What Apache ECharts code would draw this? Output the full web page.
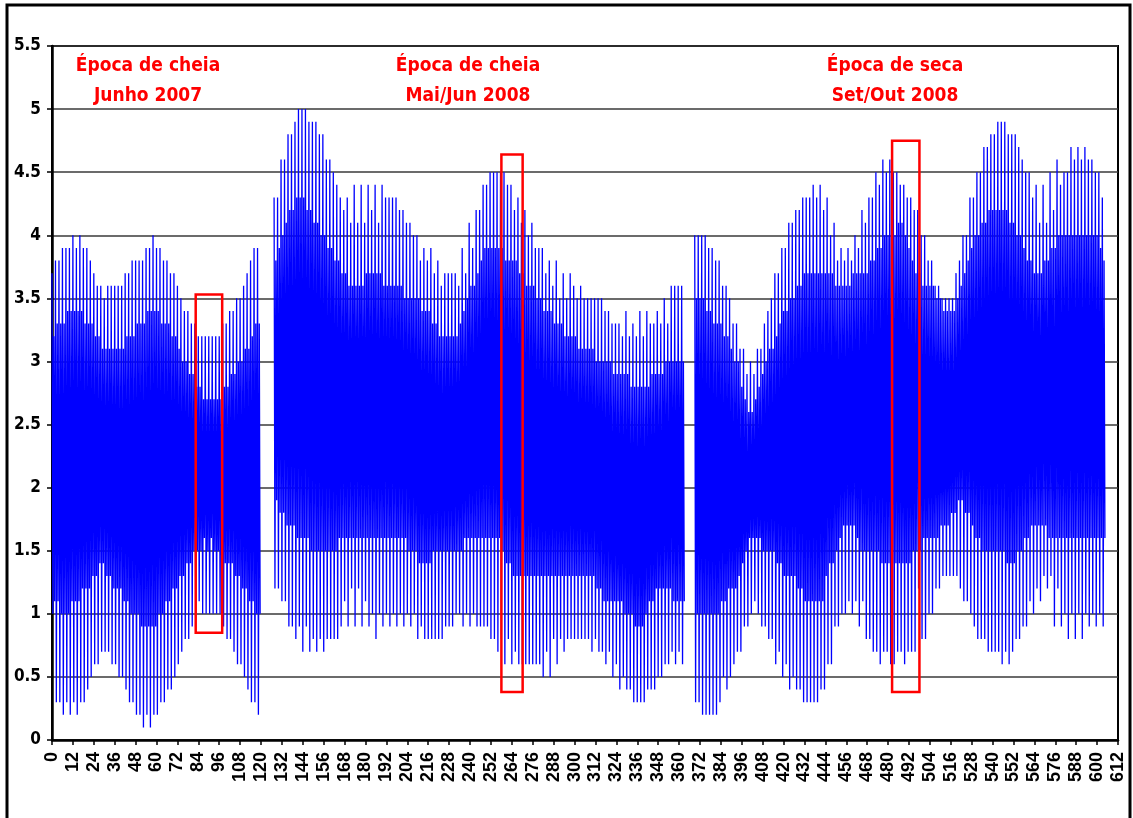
<!DOCTYPE html>
<html>
<head>
<meta charset="utf-8">
<script src="https://cdn.jsdelivr.net/npm/echarts@6/dist/echarts.min.js"></script>
<style>
html,body{margin:0;padding:0;background:#fff;}
#chart{width:1133px;height:818px;}
</style>
</head>
<body>
<div id="chart"></div>
<script>
// ---- DATA ----
// x axis: 0..612, tick every 12; y axis: 0..5.5 step 0.5
const xTicks = {min: 0, max: 612, interval: 12};
const yTicks = {min: 0, max: 5.5, interval: 0.5};

// start index of each recorded stretch
const segStart = [0, 127.5, 369];

// Stretch A (x 0-120): higher highs, lower lows, lower highs, higher lows (one value per 2 x-units)
const A_HH = [3.7,3.8,3.8,3.9,3.9,3.9,4.0,3.9,4.0,3.9, 3.9,3.8,3.7,3.6,3.6,3.5,3.6,3.6,3.6,3.6, 3.6,3.7,3.7,3.8,3.8,3.8,3.8,3.9,3.9,4.0, 3.9,3.9,3.8,3.8,3.7,3.7,3.6,3.5,3.4,3.4, 3.3,3.3,3.2,3.2,3.2,3.2,3.2,3.2,3.2,3.3, 3.3,3.4,3.4,3.5,3.5,3.6,3.7,3.8,3.9,3.9];
const A_LL = [1.0,0.3,0.3,0.2,0.3,0.2,0.3,0.2,0.3,0.3, 0.4,0.5,0.6,0.6,0.7,0.7,0.7,0.6,0.6,0.5, 0.5,0.4,0.3,0.3,0.2,0.2,0.1,0.2,0.1,0.2, 0.2,0.3,0.3,0.4,0.4,0.5,0.6,0.7,0.8,0.8, 0.9,1.0,1.1,1.0,1.0,1.0,1.0,1.0,1.0,0.9, 0.8,0.8,0.7,0.6,0.6,0.5,0.4,0.3,0.3,0.2];
const A_LH = [3.2,3.3,3.3,3.3,3.4,3.4,3.4,3.4,3.4,3.3, 3.3,3.3,3.2,3.2,3.1,3.1,3.1,3.1,3.1,3.1, 3.1,3.2,3.2,3.2,3.3,3.3,3.3,3.4,3.4,3.4, 3.4,3.3,3.3,3.3,3.2,3.2,3.1,3.0,3.0,2.9, 2.9,2.8,2.8,2.7,2.7,2.7,2.7,2.7,2.7,2.8, 2.8,2.9,2.9,3.0,3.0,3.1,3.1,3.2,3.3,3.3];
const A_HL = [1.1,1.1,1.0,1.0,1.0,1.1,1.1,1.1,1.2,1.2, 1.2,1.3,1.3,1.4,1.4,1.3,1.3,1.2,1.2,1.2, 1.1,1.1,1.0,1.0,1.0,0.9,0.9,0.9,0.9,0.9, 1.0,1.0,1.1,1.1,1.2,1.2,1.3,1.3,1.4,1.4, 1.5,1.5,1.5,1.6,1.5,1.6,1.5,1.5,1.5,1.4, 1.4,1.4,1.3,1.3,1.2,1.2,1.1,1.1,1.0,1.0];

// Stretch B (x 128-362)
const B_HH = [4.3,4.3,4.6,4.6,4.8,4.8,4.9,5.0,5.0,5.0, 4.9,4.9,4.9,4.8,4.8,4.6,4.6,4.5,4.4,4.3, 4.2,4.3,4.1,4.4,4.1,4.4,4.1,4.4,4.2,4.4, 4.1,4.4,4.3,4.3,4.3,4.3,4.2,4.2,4.1,4.1, 4.0,4.0,3.8,3.9,3.8,3.9,3.7,3.8,3.6,3.7, 3.7,3.7,3.7,
  3.6,3.9,3.7,4.1,3.9,4.2,4.2,4.4,4.4,4.5, 4.5,4.5,4.5,4.5,4.4,4.4,4.2,4.3,4.1,4.2, 4.0,4.1,3.9,3.9,3.9,3.7,3.8,3.6,3.8,3.5, 3.7,3.5,3.7,3.6,3.5,3.6,3.5,3.5,3.5,3.5, 3.5,3.5,3.4,3.4,3.3,3.3,3.3,3.2,3.4,3.2, 3.3,3.2,3.4,3.2,3.4,3.3,3.3,3.4,3.3,3.5, 3.3,3.6,3.6,3.6,3.6];
const B_LL = [1.2,1.2,1.1,1.1,0.9,0.9,0.8,0.9,0.7,0.9, 0.7,0.8,0.7,0.8,0.7,0.8,0.8,0.8,0.8,0.9, 1.1,0.9,1.2,0.9,1.2,0.9,1.1,0.9,1.0,0.8, 1.0,0.9,1.0,0.9,1.0,0.9,1.0,0.9,1.0,0.9, 1.0,0.8,0.9,0.8,0.8,0.8,0.8,0.8,0.8,0.9, 0.9,0.9,1.0,1.0,
  0.9,1.0,0.9,1.0,0.9,0.9,0.9,0.9,0.8,0.8, 0.7,0.8,0.6,0.8,0.6,0.7,0.6,0.6,0.6,0.6, 0.6,0.6,0.6,0.5,0.7,0.5,0.8,0.6,0.8,0.7, 0.8,0.8,0.8,0.8,0.8,0.8,0.8,0.7,0.8,0.7, 0.7,0.6,0.7,0.5,0.6,0.4,0.5,0.4,0.4,0.3, 0.3,0.3,0.3,0.4,0.4,0.4,0.5,0.5,0.6,0.6, 0.7,0.6,0.7,0.6];
const B_LH = [3.8,3.9,4.0,4.1,4.2,4.2,4.3,4.3,4.3,4.2, 4.2,4.1,4.1,4.0,4.0,3.9,3.9,3.8,3.8,3.7, 3.7,3.6,3.6,3.6,3.6,3.6,3.7,3.7,3.7,3.7, 3.7,3.6,3.6,3.6,3.6,3.6,3.6,3.5,3.5,3.5, 3.5,3.5,3.4,3.4,3.4,3.3,3.3,3.2,3.2,3.2, 3.2,3.2,3.2,3.3,3.4,3.5,3.6,3.6,3.7,3.8, 3.9,3.9,3.9,3.9,3.9,3.9,3.8,3.8,3.8,3.8, 3.7,3.7,3.6,3.6,3.6,3.5,3.5,3.4,3.4,3.4, 3.3,3.3,3.3,3.2,3.2,3.2,3.2,3.1,3.1,3.1, 3.1,3.1,3.0,3.0,3.0,3.0,3.0,2.9,2.9,2.9, 2.9,2.9,2.8,2.8,2.8,2.8,2.8,2.8,2.9,2.9, 2.9,2.9,3.0,3.0,3.0,3.0,3.0,3.0];
const B_HL = [1.9,1.8,1.8,1.7,1.7,1.7,1.6,1.6,1.6,1.6, 1.5,1.5,1.5,1.5,1.5,1.5,1.5,1.5,1.6,1.6, 1.6,1.6,1.6,1.6,1.6,1.6,1.6,1.6,1.6,1.6, 1.6,1.6,1.6,1.6,1.6,1.6,1.6,1.6,1.5,1.5, 1.5,1.4,1.4,1.4,1.4,1.5,1.5,1.5,1.5,1.5, 1.5,1.5,1.5,1.5,1.6,1.6,1.6,1.6,1.6,1.6, 1.6,1.6,1.6,1.6,1.6,1.5,1.4,1.4,1.3,1.3, 1.3,1.3,1.3,1.3,1.3,1.3,1.3,1.3,1.3,1.3, 1.3,1.3,1.3,1.3,1.3,1.3,1.3,1.3,1.3,1.3, 1.3,1.3,1.2,1.2,1.1,1.1,1.1,1.1,1.1,1.1, 1.0,1.0,1.0,0.9,0.9,0.9,1.0,1.1,1.1,1.2, 1.2,1.2,1.2,1.2,1.1,1.1,1.1,1.1];

// Stretch C (x 369-604)
const C_HH = [4.0,4.0,4.0,4.0,3.9,3.9,3.8,3.8,3.6,3.6, 3.5,3.3,3.3,3.1,3.1,2.9,3.0,2.9,3.1,3.1, 3.3,3.4,3.5,3.7,3.7,3.9,3.9,4.1,4.1,4.2, 4.2,4.3,4.3,4.3,4.4,4.3,4.4,4.2,4.3,4.0, 4.1,3.8,3.9,3.8,3.9,3.8,4.0,3.9,4.2,4.1, 4.3,4.3,4.5,4.4,4.6,4.5,4.6,4.5,4.5,4.4, 4.4,4.3,4.3,4.2,4.2,
  4.0,4.0,3.8,3.8,3.6,3.6,3.5,3.5,3.5,3.5, 3.7,3.8,4.0,4.0,4.3,4.3,4.5,4.5,4.7,4.7, 4.8,4.8,4.9,4.9,4.9,4.8,4.8,4.8,4.7,4.6, 4.5,4.5,4.3,4.4,4.1,4.4,4.1,4.5,4.2,4.6, 4.4,4.5,4.5,4.7,4.6,4.7,4.6,4.7,4.6,4.6, 4.5,4.5,4.3];
const C_LL = [0.3,0.3,0.2,0.2,0.2,0.2,0.2,0.3,0.5,0.4, 0.5,0.6,0.7,0.7,0.9,0.9,1.0,1.1,1.0,0.9, 0.9,0.8,0.8,0.6,0.7,0.5,0.6,0.4,0.5,0.4, 0.4,0.3,0.3,0.3,0.3,0.3,0.4,0.4,0.6,0.6, 0.9,0.9,1.0,1.0,1.1,1.0,1.1,0.9,1.1,0.8, 0.8,0.7,0.7,0.6,0.7,0.7,0.6,0.6,0.7,0.7, 0.6,0.7,0.7,0.7,
  1.2,0.8,0.8,1.0,1.0,1.2,1.2,1.3,1.3,1.3, 1.3,1.3,1.2,1.1,1.1,1.0,0.9,0.8,0.8,0.8, 0.7,0.7,0.7,0.7,0.6,0.7,0.6,0.7,0.8,0.8, 0.9,0.9,1.1,1.0,1.2,1.1,1.3,1.2,1.3,0.9, 1.2,0.9,1.0,0.8,1.0,0.8,1.0,0.8,1.0,0.9, 1.0,0.9,1.0,0.9];
const C_LH = [3.5,3.5,3.5,3.4,3.4,3.3,3.3,3.3,3.2,3.2, 3.1,3.0,3.0,2.8,2.7,2.6,2.6,2.7,2.8,2.9, 3.0,3.1,3.1,3.2,3.3,3.4,3.4,3.5,3.5,3.6, 3.6,3.7,3.7,3.7,3.7,3.7,3.7,3.7,3.7,3.7, 3.6,3.6,3.6,3.6,3.6,3.7,3.7,3.7,3.7,3.7, 3.8,3.8,3.9,3.9,4.0,4.0,4.0,4.0,4.1,4.1, 4.0,3.9,3.8,3.7,3.7,3.6,3.6,3.6,3.6,3.5, 3.5,3.4,3.4,3.4,3.4,3.5,3.6,3.7,3.8,3.9, 4.0,4.0,4.1,4.1,4.2,4.2,4.2,4.2,4.2,4.2, 4.1,4.1,4.0,4.0,3.9,3.8,3.8,3.7,3.7,3.7, 3.8,3.8,3.9,3.9,4.0,4.0,4.0,4.0,4.0,4.0, 4.0,4.0,4.0,4.0,4.0,4.0,3.9,3.8];
const C_HL = [1.0,1.0,1.0,1.0,1.0,1.0,1.0,1.1,1.1,1.2, 1.2,1.2,1.3,1.4,1.5,1.6,1.6,1.6,1.6,1.5, 1.5,1.5,1.5,1.4,1.4,1.3,1.3,1.3,1.3,1.2, 1.2,1.1,1.1,1.1,1.1,1.1,1.1,1.3,1.4,1.4, 1.5,1.6,1.7,1.7,1.7,1.7,1.6,1.5,1.5,1.5, 1.5,1.5,1.5,1.4,1.4,1.4,1.4,1.4,1.4,1.4, 1.4,1.4,1.5,1.5,1.5,1.6,1.6,1.6,1.6,1.6, 1.7,1.7,1.7,1.8,1.8,1.9,1.9,1.8,1.8,1.7, 1.6,1.6,1.5,1.5,1.5,1.5,1.5,1.5,1.5,1.4, 1.4,1.4,1.5,1.5,1.6,1.6,1.7,1.7,1.7,1.7, 1.7,1.6,1.6,1.6,1.6,1.6,1.6,1.6,1.6,1.6, 1.6,1.6,1.6,1.6,1.6,1.6,1.6,1.6];

// Marked windows: [x1, yTop, x2, yBottom]
const boxes = [[82.5, 3.53, 97.7, 0.85], [258, 4.64, 270.2, 0.38], [482.3, 4.75, 498, 0.38]];

// Annotation texts
const notes = [
  ['Época de cheia', 'Junho 2007'],
  ['Época de cheia', 'Mai/Jun 2008'],
  ['Época de seca', 'Set/Out 2008']
];
const noteX = [148, 468, 895];

// ---- BUILD ----
function build(x0, hh, ll, lh, hl) {
  const d = [];
  for (let k = 0; k < hh.length; k++) {
    const x = x0 + 2 * k;
    d.push([x, hh[k]]);
    d.push([x + 0.5, ll[k]]);
    d.push([x + 1, lh[k]]);
    d.push([x + 1.5, hl[k]]);
  }
  return d;
}
const segs = [
  build(segStart[0], A_HH, A_LL, A_LH, A_HL),
  build(segStart[1], B_HH, B_LL, B_LH, B_HL),
  build(segStart[2], C_HH, C_LL, C_LH, C_HL)
];

const narrow = "'Liberation Sans Narrow','Arial Narrow','DejaVu Sans Condensed',sans-serif";
const wide = "'Liberation Sans',Arial,sans-serif";

const lineSeries = segs.map(d => ({
  type: 'line', data: d, showSymbol: false, symbol: 'none', silent: true,
  sampling: null, animation: false,
  lineStyle: {color: '#0000ff', width: 1.3}, z: 2
}));

const graphics = [
  {type: 'rect', shape: {x: 7, y: 5, width: 1123, height: 830}, style: {fill: 'none', stroke: '#000', lineWidth: 3}, z: 100}
];
notes.forEach((n, i) => {
  graphics.push({type: 'text', x: noteX[i], y: 66, style: {text: n[0], fill: '#ff0000', font: 'bold 19px ' + narrow, textAlign: 'center', textVerticalAlign: 'middle'}, z: 100});
  graphics.push({type: 'text', x: noteX[i], y: 96, style: {text: n[1], fill: '#ff0000', font: 'bold 19px ' + narrow, textAlign: 'center', textVerticalAlign: 'middle'}, z: 100});
});

const chart = echarts.init(document.getElementById('chart'), null, {renderer: 'canvas'});
chart.setOption({
  backgroundColor: '#ffffff',
  animation: false,
  grid: {left: 52, right: 15, top: 46, bottom: 78, show: true, borderColor: '#000', borderWidth: 2, backgroundColor: 'transparent'},
  xAxis: {
    type: 'value', min: xTicks.min, max: xTicks.max, interval: xTicks.interval,
    axisLine: {show: true, onZero: false, lineStyle: {color: '#000', width: 2.5}},
    axisTick: {show: true, length: 5, lineStyle: {color: '#000', width: 1.5}},
    splitLine: {show: false},
    axisLabel: {rotate: 90, margin: 12, color: '#000', fontWeight: 'bold', fontSize: 18, fontFamily: wide}
  },
  yAxis: {
    type: 'value', min: yTicks.min, max: yTicks.max, interval: yTicks.interval,
    axisLine: {show: true, onZero: false, lineStyle: {color: '#000', width: 2.5}},
    axisTick: {show: true, length: 5, lineStyle: {color: '#000', width: 1.5}},
    splitLine: {show: true, lineStyle: {color: '#3a3a3a', width: 1.5}},
    axisLabel: {margin: 11, color: '#000', fontWeight: 'bold', fontSize: 17, fontFamily: narrow}
  },
  graphic: graphics,
  series: lineSeries.concat([{
    type: 'custom', z: 10, silent: true,
    dimensions: ['x1', 'y1', 'x2', 'y2'],
    encode: {x: [0, 2], y: [1, 3]},
    data: boxes,
    renderItem: function (params, api) {
      const p1 = api.coord([api.value(0), api.value(1)]);
      const p2 = api.coord([api.value(2), api.value(3)]);
      return {type: 'rect', shape: {x: p1[0], y: p1[1], width: p2[0] - p1[0], height: p2[1] - p1[1]},
        style: {fill: 'none', stroke: '#ff0000', lineWidth: 2.5}};
    }
  }])
});
</script>
</body>
</html>
